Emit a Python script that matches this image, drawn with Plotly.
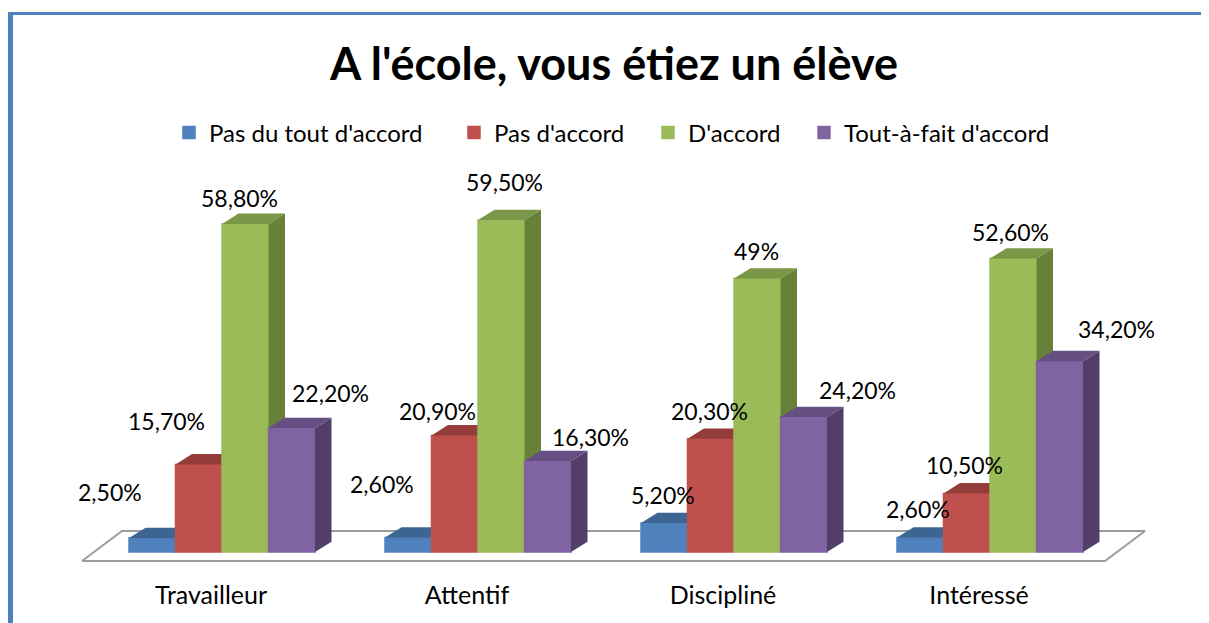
import plotly.graph_objects as go

# ---------------- data ----------------
categories = ["Travailleur", "Attentif", "Discipliné", "Intéressé"]
series_names = ["Pas du tout d'accord", "Pas d'accord", "D'accord", "Tout-à-fait d'accord"]
pas_du_tout = [2.5, 2.6, 5.2, 2.6]
pas_accord = [15.7, 20.9, 20.3, 10.5]
accord = [58.8, 59.5, 49.0, 52.6]
tout_a_fait = [22.2, 16.3, 24.2, 34.2]
label_texts = [
    ["2,50%", "2,60%", "5,20%", "2,60%"],
    ["15,70%", "20,90%", "20,30%", "10,50%"],
    ["58,80%", "59,50%", "49%", "52,60%"],
    ["22,20%", "16,30%", "24,20%", "34,20%"],
]
series_values = [pas_du_tout, pas_accord, accord, tout_a_fait]

# ---------------- style ----------------
FONT = "Lato"
front_colors = ["#4F81BD", "#C0504D", "#9BBB59", "#8064A2"]
top_colors = ["#3D6592", "#943C3A", "#7A9647", "#654F82"]
side_colors = ["#375B87", "#8A3735", "#67803A", "#523F69"]

PAGE_OFF = 8            # default body margin of the html page
W, H = 1209 - PAGE_OFF, 623 - PAGE_OFF
B_MARGIN = 45
PX_PER_CAT = 256.0
PX_PER_PCT = 5.58
ORIGIN_X_PX = 222.0 - PAGE_OFF     # pixel of first category centre
ORIGIN_Y_PX = 552.0 - PAGE_OFF     # pixel of 0 %
BAR_W = 46.5 / PX_PER_CAT
DEPTH_X = 16.5 / PX_PER_CAT
DEPTH_Y = 10.3 / PX_PER_PCT

plot_h = H - B_MARGIN
x_min = -ORIGIN_X_PX / PX_PER_CAT
x_max = x_min + W / PX_PER_CAT
y_max = ORIGIN_Y_PX / PX_PER_PCT
y_min = -(plot_h - ORIGIN_Y_PX) / PX_PER_PCT

# floor (in axis units)
FLOOR_FRONT_Y = -9 / PX_PER_PCT
FLOOR_BACK_Y = 21 / PX_PER_PCT
FLOOR_LEFT = -140 / PX_PER_CAT
FLOOR_RIGHT_PAD = 115 / PX_PER_CAT
FLOOR_DX = 40 / PX_PER_CAT

# label pixel shifts (x, y) per series per category
label_shifts = [
    [(-51, 36), (-35, 43), (-10, 18), (-11, 18)],
    [(-41, 33), (-26, 14), (-10, 17), (-11, 18)],
    [(-14, 16), (-5, 28), (-9, 17), (-11, 16)],
    [(30, 25), (34, 14), (45, 17), (48, 22)],
]
TICK_SHIFT = -11 / PX_PER_CAT

# legend entries: left pixel of each legend box, centre line
legend_left_px = [161, 446, 640, 796]
LEGEND_Y_PX = 125

fig = go.Figure()

n = len(categories)
xs = list(range(n))

# floor
fl = FLOOR_LEFT
fr = (n - 1) + FLOOR_RIGHT_PAD
fig.add_trace(go.Scatter(
    x=[fl, fr, fr + FLOOR_DX, fl + FLOOR_DX, fl],
    y=[FLOOR_FRONT_Y, FLOOR_FRONT_Y, FLOOR_BACK_Y, FLOOR_BACK_Y, FLOOR_FRONT_Y],
    mode="lines", fill="toself", fillcolor="white",
    line=dict(color="#9C9C9C", width=2),
    hoverinfo="skip", showlegend=False, zorder=-1,
))

legend_keys = ["legend", "legend2", "legend3", "legend4"]

for s, vals in enumerate(series_values):
    offset = -2 * BAR_W + s * BAR_W
    # side and top faces
    for i, v in enumerate(vals):
        xl = xs[i] + offset
        xr = xl + BAR_W
        fig.add_trace(go.Scatter(
            x=[xr, xr + DEPTH_X, xr + DEPTH_X, xr, xr],
            y=[0, DEPTH_Y, v + DEPTH_Y, v, 0],
            mode="lines", fill="toself", fillcolor=side_colors[s],
            line=dict(width=0, color=side_colors[s]),
            hoverinfo="skip", showlegend=False, zorder=s,
        ))
        fig.add_trace(go.Scatter(
            x=[xl, xl + DEPTH_X, xr + DEPTH_X, xr, xl],
            y=[v, v + DEPTH_Y, v + DEPTH_Y, v, v],
            mode="lines", fill="toself", fillcolor=top_colors[s],
            line=dict(width=0, color=top_colors[s]),
            hoverinfo="skip", showlegend=False, zorder=s,
        ))
    # front faces
    fig.add_trace(go.Bar(
        x=xs, y=vals, name=series_names[s],
        width=BAR_W, offset=offset,
        marker=dict(color=front_colors[s], line=dict(width=1.5, color=front_colors[s])),
        zorder=s, legend=legend_keys[s], showlegend=True,
    ))
    # labels
    for i, v in enumerate(vals):
        xl = xs[i] + offset
        fig.add_annotation(
            x=xl + BAR_W / 2 + DEPTH_X / 2, y=v + DEPTH_Y,
            text=label_texts[s][i], showarrow=False,
            xanchor="center", yanchor="middle",
            xshift=label_shifts[s][i][0], yshift=label_shifts[s][i][1],
            font=dict(family=FONT, size=23, color="black"),
        )

# border decoration
fig.add_shape(type="line", xref="paper", yref="paper",
              x0=0, x1=1.0, y0=1 - 5.5 / plot_h, y1=1 - 5.5 / plot_h,
              line=dict(color="#4F81BD", width=3))
fig.add_shape(type="line", xref="paper", yref="paper",
              x0=2.5 / W, x1=2.5 / W, y0=1 - 4 / plot_h, y1=-B_MARGIN / plot_h,
              line=dict(color="#4F81BD", width=5))

legend_layout = {}
for s, key in enumerate(legend_keys):
    legend_layout[key] = dict(
        orientation="h", x=legend_left_px[s] / W, xanchor="left",
        y=1 - LEGEND_Y_PX / plot_h, yanchor="middle",
        font=dict(family=FONT, size=24, color="black"),
        bgcolor="rgba(0,0,0,0)",
    )

fig.update_layout(
    width=W, height=H, autosize=False,
    margin=dict(l=0, r=0, t=0, b=B_MARGIN, pad=0),
    paper_bgcolor="white", plot_bgcolor="white",
    barmode="overlay",
    title=dict(text="<b>A l'école, vous étiez un élève</b>",
               font=dict(family=FONT, size=45, color="black"),
               x=606 / W, xanchor="center", xref="container",
               y=1 - 56 / H, yanchor="middle", yref="container"),
    xaxis=dict(range=[x_min, x_max], showgrid=False, zeroline=False,
               showline=False, ticks="", fixedrange=True,
               tickvals=[x + TICK_SHIFT for x in xs], ticktext=categories,
               tickfont=dict(family=FONT, size=25, color="black")),
    yaxis=dict(range=[y_min, y_max], visible=False, fixedrange=True),
    showlegend=True,
    **legend_layout,
)

fig.write_html("out.html")
